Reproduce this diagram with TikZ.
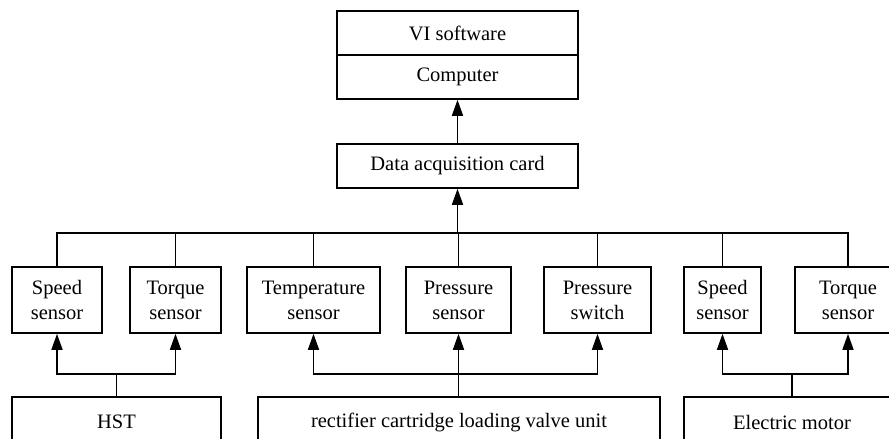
\documentclass[tikz,border=0pt]{standalone}
\usepackage{fontspec}
\setmainfont{Liberation Serif}
\usetikzlibrary{arrows.meta}
\tikzstyle{every node}=[font=\fontsize{20.5}{25}\selectfont]
\tikzstyle{box}=[draw, line width=1.6pt, align=center, inner sep=0pt]
\tikzstyle{arr}=[line width=1.6pt, -{Triangle[width=11pt,length=16pt]}]
\tikzstyle{wire}=[line width=1.6pt]

\begin{document}
\begin{tikzpicture}[x=1pt,y=-1pt]
\useasboundingbox (0,0) rectangle (889,439);
% top boxes
\node[box, minimum width=241, minimum height=44] (vi) at (457.5,33) {VI software};
\node[box, minimum width=241, minimum height=44] (comp) at (457.5,77) {Computer};
\node[box, minimum width=241, minimum height=44] (card) at (457.5,166) {Data acquisition card};
% sensors
\node[box, minimum width=90, minimum height=66] (sp1) at (57,300) {Speed\\sensor};
\node[box, minimum width=91, minimum height=66] (tq1) at (175.5,300) {Torque\\sensor};
\node[box, minimum width=133, minimum height=66] (temp) at (313.5,300) {Temperature\\sensor};
\node[box, minimum width=105, minimum height=66] (psens) at (458.5,300) {Pressure\\sensor};
\node[box, minimum width=107, minimum height=66] (psw) at (597.5,300) {Pressure\\switch};
\node[box, minimum width=77, minimum height=66] (sp2) at (722.5,300) {Speed\\sensor};
\node[box, minimum width=106, minimum height=66] (tq2) at (848,300) {Torque\\sensor};
% sources
\node[box, minimum width=209, minimum height=50] (hst) at (116.5,422) {HST};
\node[box, minimum width=402, minimum height=50] (rect) at (459,422) {rectifier cartridge loading valve unit};
\node[box, minimum width=216, minimum height=50] (motor) at (792,422) {Electric motor};
\coordinate (bus) at (457.5,233);
\coordinate (hbus) at (116.5,374);
\coordinate (rbus) at (458.5,374);
\coordinate (mbus) at (792,374);
\draw[arr] (card) -- (comp);
\draw[arr] (bus) -- (card);
\draw[wire] (sp1.north) |- (bus) -| (tq2.north);
\foreach \s in {tq1,temp,psw,sp2}
  \draw[wire] (\s.north) -- (\s.north |- bus);
\draw[wire] (psens.north) -- (psens.north |- bus);
\draw[wire] (hst.north) -- (hbus);
\draw[arr] (hbus) -| (sp1.south);
\draw[arr] (hbus) -| (tq1.south);
\draw[wire] (rect.north -| rbus) -- (rbus);
\draw[arr] (rbus) -| (temp.south);
\draw[arr] (rbus) -- (psens.south);
\draw[arr] (rbus) -| (psw.south);
\draw[wire] (motor.north) -- (mbus);
\draw[arr] (mbus) -| (sp2.south);
\draw[arr] (mbus) -| (tq2.south);
\end{tikzpicture}
\end{document}
